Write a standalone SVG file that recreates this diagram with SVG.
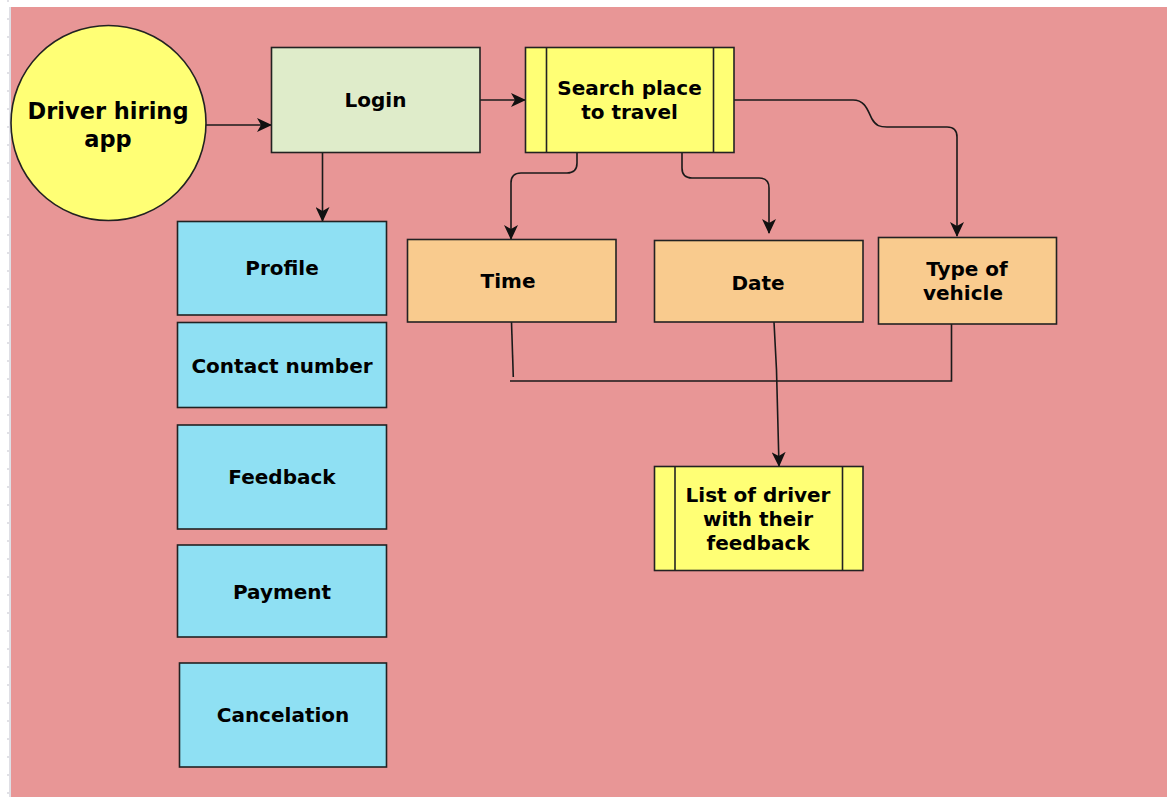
<svg xmlns="http://www.w3.org/2000/svg" width="1168" height="797" viewBox="0 0 1168 797">
  <style>
    .box { stroke: #222; stroke-width: 1.6; }
    .yellow { fill: #FFFF75; }
    .green { fill: #DFECCA; }
    .blue { fill: #8FE0F3; }
    .orange { fill: #F9CB8E; }
    .lbl { font-family: "DejaVu Sans", "Liberation Sans", sans-serif; font-weight: bold; font-size: 20px; fill: #000; text-anchor: middle; }
    .big { font-size: 22.5px; }
    .edge { fill: none; stroke: #1a1a1a; stroke-width: 1.6; }
    .arrow { marker-end: url(#head); }
  </style>
  <defs>
    <marker id="head" markerUnits="userSpaceOnUse" markerWidth="15" markerHeight="14" refX="14" refY="7" orient="auto">
      <path d="M0,0 L15,7 L0,14 L4,7 z" fill="#111"/>
    </marker>
  </defs>

  <!-- page -->
  <rect x="0" y="0" width="1168" height="797" fill="#ffffff"/>
  <rect x="11" y="7" width="1156" height="790" fill="#E89696"/>
  <line x1="10" y1="7" x2="10" y2="797" stroke="#d4d4dc" stroke-width="1.5"/>
  <line x1="8" y1="0" x2="8" y2="797" stroke="#d8d8de" stroke-width="1.5" stroke-dasharray="2 16"/>

  <!-- connectors -->
  <g id="connectors">
    <path class="edge arrow" d="M206,125 H271"/>
    <path class="edge arrow" d="M480,100 H525"/>
    <path class="edge arrow" d="M322.5,152 V221"/>
    <path class="edge arrow" d="M577,152 V163 Q577,173 567,173 H521 Q511,173 511,183 V239"/>
    <path class="edge arrow" d="M682,152 V168 Q682,178 692,178 H759 Q769,178 769,188 V233"/>
    <path class="edge arrow" d="M734,100 H853 C866,100 868,112 872,119 C876,126 880,127 887,127 H947 Q957,127 957,137 V236"/>
    <path class="edge" d="M511.5,322 L513.3,377"/>
    <path class="edge" d="M510,381 H951.5 V324"/>
    <path class="edge arrow" d="M774,322 L776.5,370 L779,466"/>
  </g>

  <g id="driver-hiring-app">
    <circle class="box yellow" cx="108.5" cy="123" r="97.5"/>
    <text class="lbl big" x="108" y="119">Driver hiring</text>
    <text class="lbl big" x="108" y="147">app</text>
  </g>

  <g id="login">
    <rect class="box green" x="271.5" y="47.5" width="208.5" height="105"/>
    <text class="lbl" x="375.5" y="107">Login</text>
  </g>

  <g id="search-place">
    <rect class="box yellow" x="525.5" y="47.5" width="208.5" height="105"/>
    <line class="box" x1="546.5" y1="47.5" x2="546.5" y2="152.5"/>
    <line class="box" x1="713.5" y1="47.5" x2="713.5" y2="152.5"/>
    <text class="lbl" x="629.5" y="95">Search place</text>
    <text class="lbl" x="629.5" y="119">to travel</text>
  </g>

  <g id="profile">
    <rect class="box blue" x="177.5" y="221.5" width="209" height="93.5"/>
    <text class="lbl" x="282" y="275">Profile</text>
  </g>

  <g id="contact-number">
    <rect class="box blue" x="177.5" y="322.5" width="209" height="85"/>
    <text class="lbl" x="282" y="373">Contact number</text>
  </g>

  <g id="feedback">
    <rect class="box blue" x="177.5" y="425" width="209" height="104"/>
    <text class="lbl" x="282" y="484">Feedback</text>
  </g>

  <g id="payment">
    <rect class="box blue" x="177.5" y="545" width="209" height="92"/>
    <text class="lbl" x="282" y="599">Payment</text>
  </g>

  <g id="cancelation">
    <rect class="box blue" x="179.5" y="663" width="207" height="104"/>
    <text class="lbl" x="283" y="722">Cancelation</text>
  </g>

  <g id="time">
    <rect class="box orange" x="407.5" y="239.5" width="208.5" height="82.5"/>
    <text class="lbl" x="508" y="288">Time</text>
  </g>

  <g id="date">
    <rect class="box orange" x="654.5" y="240.5" width="208.5" height="81.5"/>
    <text class="lbl" x="758" y="290">Date</text>
  </g>

  <g id="type-of-vehicle">
    <rect class="box orange" x="878.5" y="237.5" width="178" height="86.5"/>
    <text class="lbl" x="967" y="276">Type of</text>
    <text class="lbl" x="963" y="300">vehicle</text>
  </g>

  <g id="driver-list">
    <rect class="box yellow" x="654.5" y="466.5" width="208.5" height="104"/>
    <line class="box" x1="675" y1="466.5" x2="675" y2="570.5"/>
    <line class="box" x1="842.5" y1="466.5" x2="842.5" y2="570.5"/>
    <text class="lbl" x="758" y="502">List of driver</text>
    <text class="lbl" x="758" y="526">with their</text>
    <text class="lbl" x="758" y="550">feedback</text>
  </g>
</svg>
